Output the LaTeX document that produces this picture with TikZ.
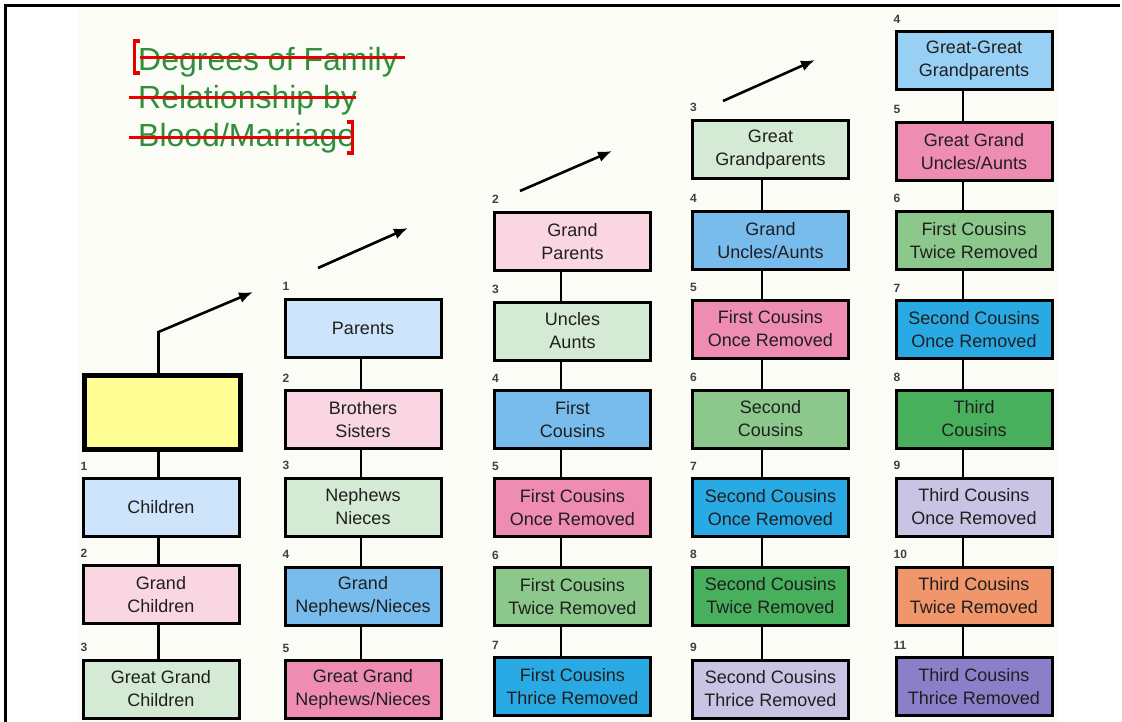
\documentclass[tikz,border=0pt]{standalone}
\usepackage{fontspec}
\setmainfont{Liberation Sans}
\usetikzlibrary{arrows.meta}
\definecolor{cream}{HTML}{FCFCF6}
\definecolor{yel}{HTML}{FFFF96}
\definecolor{lblue}{HTML}{CDE4FA}
\definecolor{lpink}{HTML}{FAD6E2}
\definecolor{lgreen}{HTML}{D4EAD4}
\definecolor{mblue}{HTML}{78BCEE}
\definecolor{sblue}{HTML}{98CFF4}
\definecolor{pinkc}{HTML}{EE8CB2}
\definecolor{mgreen}{HTML}{8CC88C}
\definecolor{cyanc}{HTML}{2AAAE4}
\definecolor{dgreen}{HTML}{48AF5C}
\definecolor{lav}{HTML}{C9C4E4}
\definecolor{orng}{HTML}{F0966A}
\definecolor{purp}{HTML}{8C7EC8}
\definecolor{ttl}{HTML}{2F8F3A}
\definecolor{strk}{HTML}{E60000}
\tikzset{
  box/.style={draw=black, line width=3pt, minimum width=156pt, minimum height=58pt,
    inner sep=0pt, align=center, text=black!88,
    font=\fontsize{18}{23}\selectfont},
  selfbox/.style={draw=black, line width=5pt, fill=yel, minimum width=156pt,
    minimum height=74pt, inner sep=0pt},
  num/.style={anchor=base west, inner sep=0pt, text=black!75,
    font=\fontsize{12}{12}\selectfont\bfseries},
  link/.style={draw=black, line width=2.8pt},
  arr/.style={draw=black, line width=2.6pt, -{Latex[length=14pt,width=11pt]}},
  ttltext/.style={anchor=base west, inner sep=0pt, text=ttl,
    font=\fontsize{32}{38}\selectfont},
  strike/.style={draw=strk, line width=3pt},
}
\begin{document}
\begin{tikzpicture}[x=1pt,y=-1pt]
\useasboundingbox (0,0) rectangle (1122,722);
\fill[white] (0,0) rectangle (1122,722);
\fill[cream] (77,7) rectangle (1057,722);
% outer frame (partial)
\draw[line width=2.5pt] (5.5,722) -- (5.5,5.5) -- (1120,5.5);

% title
\node[ttltext] (t1) at (138,71) {Degrees of Family};
\node[ttltext] (t2) at (138,109) {Relationship by};
\node[ttltext] (t3) at (138,147) {Blood/Marriage};
\draw[strike] (140,58) -- (405,58);
\draw[strike] (129,98) -- (356,98);
\draw[strike] (129,138) -- (350,138);
\draw[strk, line width=3.5pt] (140,41) -- (134.5,41) -- (134.5,73) -- (140,73);
\draw[strk, line width=3.5pt] (347,122) -- (352.5,122) -- (352.5,153) -- (347,153);

% column x for links
\coordinate (x0) at (158.5,0);
\coordinate (x1) at (361,0);
\coordinate (x2) at (561,0);
\coordinate (x3) at (762,0);
\coordinate (x4) at (963,0);

% column 0
\node[selfbox] (self) at (162.5,412.5) {};
\node[box, fill=lblue] (ch) at (161,507.5) {Children};
\node[box, fill=lpink] (gch) at (161,594.5) {Grand\\Children};
\node[box, fill=lgreen] (ggch) at (161,689) {Great Grand\\Children};

% column 1
\node[box, fill=lblue] (par) at (363,328) {Parents};
\node[box, fill=lpink] (bs) at (363,419.5) {Brothers\\Sisters};
\node[box, fill=lgreen] (nn) at (363,507) {Nephews\\Nieces};
\node[box, fill=mblue] (gnn) at (363,596) {Grand\\Nephews/Nieces};
\node[box, fill=pinkc] (ggnn) at (363,689.5) {Great Grand\\Nephews/Nieces};

% column 2
\node[box, fill=lpink] (gp) at (572.5,241.5) {Grand\\Parents};
\node[box, fill=lgreen] (ua) at (572.5,331) {Uncles\\Aunts};
\node[box, fill=mblue] (fc) at (572.5,419.5) {First\\Cousins};
\node[box, fill=pinkc] (fca) at (572.5,507.5) {First Cousins\\Once Removed};
\node[box, fill=mgreen] (fcb) at (572.5,596.5) {First Cousins\\Twice Removed};
\node[box, fill=cyanc] (fcc) at (572.5,686.5) {First Cousins\\Thrice Removed};

% column 3
\node[box, fill=lgreen] (ggp) at (770.5,149.5) {Great\\Grandparents};
\node[box, fill=mblue] (gua) at (770.5,240.5) {Grand\\Uncles/Aunts};
\node[box, fill=pinkc] (fcd) at (770.5,329) {First Cousins\\Once Removed};
\node[box, fill=mgreen] (sc) at (770.5,419) {Second\\Cousins};
\node[box, fill=cyanc] (sca) at (770.5,507.5) {Second Cousins\\Once Removed};
\node[box, fill=dgreen] (scb) at (770.5,596) {Second Cousins\\Twice Removed};
\node[box, fill=lav] (scc) at (770.5,689) {Second Cousins\\Thrice Removed};

% column 4
\node[box, fill=sblue] (gggp) at (974,61) {Great-Great\\Grandparents};
\node[box, fill=pinkc] (ggua) at (974,151.5) {Great Grand\\Uncles/Aunts};
\node[box, fill=mgreen] (fce) at (974,240.5) {First Cousins\\Twice Removed};
\node[box, fill=cyanc] (scd) at (974,329.5) {Second Cousins\\Once Removed};
\node[box, fill=dgreen] (tc) at (974,419) {Third\\Cousins};
\node[box, fill=lav] (tca) at (974,507) {Third Cousins\\Once Removed};
\node[box, fill=orng] (tcb) at (974,596) {Third Cousins\\Twice Removed};
\node[box, fill=purp] (tcc) at (974,686.5) {Third Cousins\\Thrice Removed};

% number labels
\foreach \b/\n in {ch/1,gch/2,ggch/3,
                   par/1,bs/2,nn/3,gnn/4,ggnn/5,
                   gp/2,ua/3,fc/4,fca/5,fcb/6,fcc/7,
                   ggp/3,gua/4,fcd/5,sc/6,sca/7,scb/8,scc/9,
                   gggp/4,ggua/5,fce/6,scd/7,tc/8,tca/9,tcb/10,tcc/11}
  \node[num] (lab-\b) at ([xshift=-1pt,yshift=7pt]\b.north west) {\n};

% vertical links
\foreach \a/\b/\c in {self/ch/x0,ch/gch/x0,gch/ggch/x0,
                      par/bs/x1,bs/nn/x1,nn/gnn/x1,gnn/ggnn/x1,
                      gp/ua/x2,ua/fc/x2,fc/fca/x2,fca/fcb/x2,fcb/fcc/x2,
                      ggp/gua/x3,gua/fcd/x3,fcd/sc/x3,sc/sca/x3,sca/scb/x3,scb/scc/x3,
                      gggp/ggua/x4,ggua/fce/x4,fce/scd/x4,scd/tc/x4,tc/tca/x4,tca/tcb/x4,tcb/tcc/x4}
  \draw[link] (\a.south -| \c) -- (\b.north -| \c);

% arrows
\coordinate (k0) at (158.5,332);
\coordinate (e0) at (253,292);
\draw[arr] (self.north -| x0) -- (k0) -- (e0);
\coordinate (s1) at (318,268);
\coordinate (e1) at (408,228);
\draw[arr] (s1) -- (e1);
\coordinate (s2) at (520,191);
\coordinate (e2) at (612,151);
\draw[arr] (s2) -- (e2);
\coordinate (s3) at (723,101);
\coordinate (e3) at (815,60);
\draw[arr] (s3) -- (e3);
\end{tikzpicture}
\end{document}
